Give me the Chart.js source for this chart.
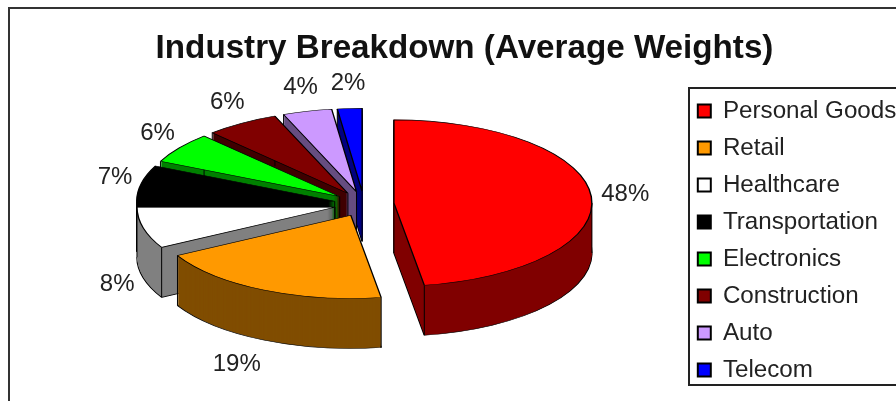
<!DOCTYPE html>
<html>
<head>
<meta charset="utf-8">
<title>Industry Breakdown</title>
<style>
  html, body { margin: 0; padding: 0; background: #fff; overflow: hidden; }
  canvas { display: block; }
</style>
<script src="https://cdn.jsdelivr.net/npm/chart.js@4"></script>
</head>
<body>
<canvas id="industryChart" width="896" height="401"></canvas>
<script>
const categories = ["Personal Goods", "Retail", "Healthcare", "Transportation", "Electronics", "Construction", "Auto", "Telecom"];
const weights = [47.5, 19.4, 8, 7, 6, 6, 4, 2];
const sliceColors = ["#ff0000", "#ff9900", "#ffffff", "#000000", "#00ff00", "#800000", "#cc99ff", "#0000ff"];
const sideColors = ["#800000", "#804d00", "#808080", "#000000", "#008000", "#400000", "#664d80", "#000080"];

const FONT = "'Liberation Sans', Arial, sans-serif";
const TEXT_COLOR = "#222222";

// the look of the old 3D pie: squashed circle, fixed explosion, extruded wall
const pie = { x: 364, y: 204, squash: 0.42, explode: 30, depth: 50 };

const withOptions = (arc, extra, fn) => {
  const original = arc.options;
  arc.options = { ...original, ...extra };
  fn();
  arc.options = original;
};

const pie3d = {
  id: "pie3d",
  // title and legend do not sit where the layout boxes would put them
  afterLayout(chart) {
    const title = chart.titleBlock;
    title.left = 9;
    title.right = 920;
    const legend = chart.legend;
    legend.left = 685;
    legend.right = 685 + legend.width + 20;
    legend.top = 86;
    legend.bottom = 86 + legend.height + 20;
  },
  beforeDraw(chart) {
    const ctx = chart.ctx;
    ctx.save();
    ctx.fillStyle = "#ffffff";
    ctx.fillRect(0, 0, chart.width, chart.height);
    ctx.strokeStyle = "#333333";
    ctx.lineWidth = 2;
    ctx.strokeRect(9, 8, 1000, 1000); // chart frame, runs off the right and bottom
    ctx.strokeStyle = "#222222";
    ctx.strokeRect(689, 88, 400, 297); // legend frame
    ctx.restore();
  },
  beforeDatasetDraw() {
    return false; // slices are drawn below instead
  },
  afterDatasetsDraw(chart) {
    const ctx = chart.ctx;
    const arcs = chart.getDatasetMeta(0).data;

    // back slices first, so the front ones cover their walls
    for (let i = arcs.length - 1; i >= 0; i--) {
      const arc = arcs[i];
      const mid = (arc.startAngle + arc.endAngle) / 2;
      const dx = Math.cos(mid) * pie.explode;
      const dy = Math.sin(mid) * pie.explode;

      const place = (drop) => {
        ctx.translate(pie.x, pie.y + drop);
        ctx.scale(1, pie.squash);
        ctx.translate(dx - arc.x, dy - arc.y);
      };

      // bottom outline, then the wall
      ctx.save();
      place(pie.depth);
      withOptions(arc, { backgroundColor: sideColors[i] }, () => arc.draw(ctx));
      ctx.restore();
      for (let d = pie.depth - 1; d > 0; d--) {
        ctx.save();
        place(d);
        withOptions(arc, { backgroundColor: sideColors[i], borderWidth: 0 }, () => arc.draw(ctx));
        ctx.restore();
      }

      // wall corners
      const edgeAngles = [arc.startAngle, arc.endAngle];
      [0, Math.PI].forEach((a) => {
        if (a > arc.startAngle && a < arc.endAngle) edgeAngles.push(a);
      });
      const corners = edgeAngles.map((a) => [
        pie.x + dx + Math.cos(a) * arc.outerRadius,
        pie.y + (dy + Math.sin(a) * arc.outerRadius) * pie.squash,
      ]);
      corners.push([pie.x + dx, pie.y + dy * pie.squash]);
      ctx.save();
      ctx.strokeStyle = "#000000";
      ctx.lineWidth = 1;
      corners.forEach(([x, y]) => {
        ctx.beginPath();
        ctx.moveTo(x, y);
        ctx.lineTo(x, y + pie.depth);
        ctx.stroke();
      });
      ctx.restore();

      // top face
      ctx.save();
      place(0);
      arc.draw(ctx);
      ctx.restore();
    }

    // percent labels go outside the rim, past the wall on the lower half
    const labelNudge = { 0: [7, 0], 1: [-15, 2] };
    ctx.save();
    ctx.font = "24px " + FONT;
    ctx.fillStyle = TEXT_COLOR;
    ctx.textAlign = "center";
    ctx.textBaseline = "middle";
    arcs.forEach((arc, i) => {
      const mid = (arc.startAngle + arc.endAngle) / 2;
      const rim = arc.outerRadius + pie.explode;
      const nudge = labelNudge[i] || [0, 0];
      const x = pie.x + Math.cos(mid) * (rim + 27) + nudge[0];
      let y = pie.y + Math.sin(mid) * (rim * pie.squash + 25) + nudge[1];
      if (Math.sin(mid) > 0.1) y += pie.depth;
      ctx.fillText(Math.round(weights[i]) + "%", x, y);
    });
    ctx.restore();
  },
};

new Chart(document.getElementById("industryChart"), {
  type: "pie",
  data: {
    labels: categories,
    datasets: [
      {
        data: weights,
        backgroundColor: sliceColors,
        borderColor: "#000000",
        borderWidth: 1.4,
        radius: 198,
      },
    ],
  },
  options: {
    responsive: false,
    animation: false,
    plugins: {
      title: {
        display: true,
        text: "Industry Breakdown (Average Weights)",
        color: "#111111",
        font: { family: FONT, size: 33.2, weight: "bold", lineHeight: 1.2 },
        padding: { top: 29, bottom: 0 },
      },
      legend: {
        position: "right",
        align: "start",
        labels: {
          color: TEXT_COLOR,
          font: { family: FONT, size: 24.2 },
          boxWidth: 13,
          boxHeight: 13,
          padding: 12.8,
          generateLabels(chart) {
            return Chart.overrides.pie.plugins.legend.labels
              .generateLabels(chart)
              .map((item) => ({ ...item, lineWidth: 2, strokeStyle: "#000000" }));
          },
        },
      },
      tooltip: { enabled: false },
    },
  },
  plugins: [pie3d],
});
</script>
</body>
</html>
